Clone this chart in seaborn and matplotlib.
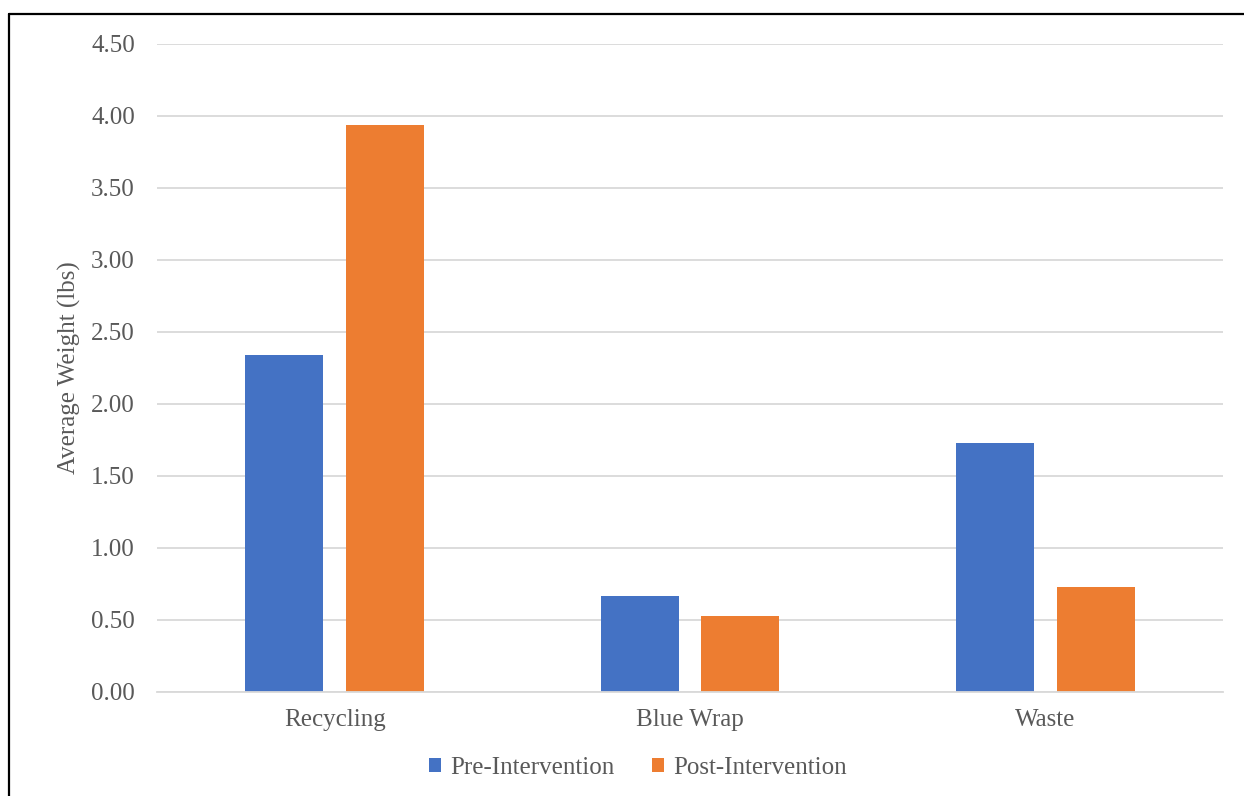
import matplotlib
matplotlib.use("Agg")
import matplotlib.pyplot as plt
from matplotlib.lines import Line2D
import seaborn as sns
import pandas as pd

categories = ["Recycling", "Blue Wrap", "Waste"]
series_names = ["Pre-Intervention", "Post-Intervention"]
pre_values = [2.34, 0.67, 1.73]
post_values = [3.94, 0.53, 0.73]
y_ticks = [0.0, 0.5, 1.0, 1.5, 2.0, 2.5, 3.0, 3.5, 4.0, 4.5]
y_label = "Average Weight (lbs)"

BLUE = "#4472C4"
ORANGE = "#ED7D31"
GRID = "#D9D9D9"
TEXT = "#595959"
FS = 18

df = pd.DataFrame({
    "Category": categories * 2,
    "Weight": pre_values + post_values,
    "Period": [series_names[0]] * 3 + [series_names[1]] * 3,
})

sns.set_theme(style="white")
plt.rcParams["font.family"] = ["Liberation Serif", "DejaVu Serif"]

W, H = 1244, 796
fig = plt.figure(figsize=(W / 100, H / 100), dpi=100)
ax = fig.add_axes([157 / W, 1 - 692 / H, (1223 - 157) / W, (692 - 44) / H])

sns.barplot(data=df, x="Category", y="Weight", hue="Period",
            order=categories, hue_order=series_names,
            palette=[BLUE, ORANGE], saturation=1, width=0.566, gap=0.224,
            linewidth=0, ax=ax)

ax.set_ylim(0, 4.5)
ax.set_yticks(y_ticks)
ax.set_yticklabels([f"{v:.2f}" for v in y_ticks])
ax.set_xlim(-0.5, 2.5)
ax.yaxis.grid(True, color=GRID, linewidth=1.3)
ax.xaxis.grid(False)
ax.set_axisbelow(True)
for s in ["top", "right", "left"]:
    ax.spines[s].set_visible(False)
ax.spines["bottom"].set_color(GRID)
ax.spines["bottom"].set_linewidth(1.3)
ax.tick_params(axis="y", length=0, pad=16, labelsize=FS, labelcolor=TEXT)
ax.tick_params(axis="x", length=0, pad=12, labelsize=FS, labelcolor=TEXT)
ax.set_xlabel("")
ax.set_ylabel(y_label, fontsize=FS, color=TEXT)
ax.yaxis.set_label_coords(-0.071, 0.5)

ax.get_legend().remove()
handles, labels = ax.get_legend_handles_labels()
fig.legend(handles[:2], labels[:2], loc="center", bbox_to_anchor=(637.5 / W, 1 - 768 / H),
           ncol=2, frameon=False, fontsize=FS, labelcolor=TEXT,
           handlelength=0.5, handleheight=0.5, handletextpad=0.35, columnspacing=1.5)

# screenshot frame (left and top edges)
x0 = 8.5 / W
y0 = 1 - 13.5 / H
fig.add_artist(Line2D([x0, x0], [0, y0], color="black", linewidth=1.6))
fig.add_artist(Line2D([x0, 1], [y0, y0], color="black", linewidth=1.6))

fig.savefig("out.png", dpi=100, facecolor="white")
